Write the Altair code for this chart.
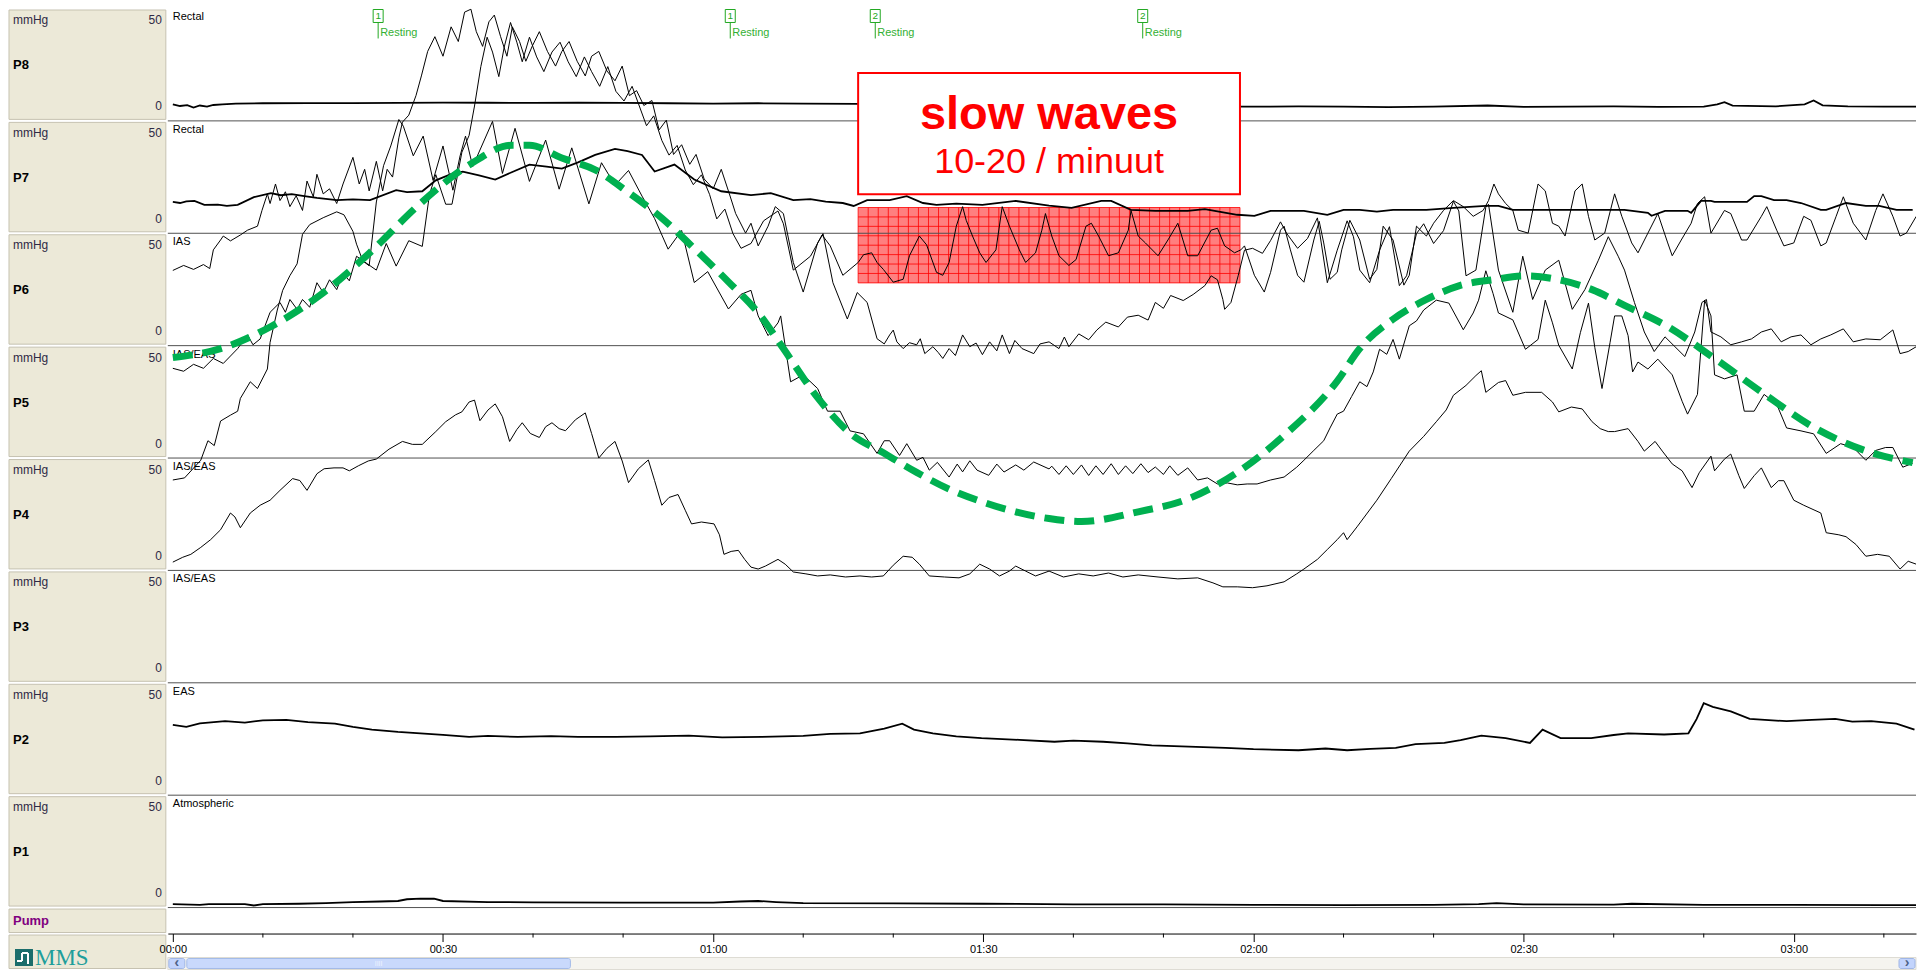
import altair as alt
import pandas as pd

FONT = "Liberation Sans"

# ----------------------------------------------------------------- data
CHANNELS = ["P8", "P7", "P6", "P5", "P4", "P3", "P2", "P1"]
SITES = ["Rectal", "Rectal", "IAS", "IAS/EAS", "IAS/EAS", "IAS/EAS", "EAS", "Atmospheric"]
UNIT_LABEL = "mmHg"
RANGE_HI = "50"
RANGE_LO = "0"
PUMP_LABEL = "Pump"
LOGO_LABEL = "MMS"

# (time s, pressure mmHg) per channel
P8 = [(0, 1.5), (0.8, 0.6), (1.6, 1.1), (2.3, -0.3), (3.0, 0.9), (3.8, 0.3), (4.5, 1.2), (5.5, 1.6), (7, 2.0),
      (10, 2.2), (15, 2.3), (20, 2.3), (25, 2.4), (30, 2.6), (35, 2.5), (40, 2.4), (45, 2.5), (50, 2.4), (55, 2.2),
      (60, 2.0), (65, 2.2), (70, 2.0), (76, 1.8), (97, 1.0), (119, 0.2), (125, 0.4), (130, 0.2), (135, 0.0),
      (140, 0.3), (146, 0.9), (150, 0.1), (155, 0.2), (160, 0.4), (165, 0.1), (170, 0.3), (171.5, 1.5),
      (172.3, 2.8), (173.2, 0.8), (178, 0.4), (181.2, 1.6), (182.2, 3.8), (183.2, 1.0), (186, 0.4), (190, 0.3),
      (193.6, 0.2)]

P7 = [(0, 10.1), (0.8, 9.5), (1.5, 10.4), (2.4, 10.7), (3.5, 8.4), (5, 8.6), (6, 7.9), (7.2, 8.4), (9.0, 12.9),
      (10.9, 15.2), (12, 14), (13.2, 14.6), (14.6, 13.5), (16, 12.5), (18.2, 11.2), (20, 11.6), (21.9, 11.2),
      (24.8, 16.9), (26, 15.8), (27.7, 16.3), (29.2, 22.6), (31.1, 26.6), (32.2, 27.7), (34, 25.5), (35.8, 23.1),
      (37.5, 27), (39.6, 31.7), (41.5, 30.5), (43.2, 29.4), (45, 33), (46.9, 37.3), (49.1, 40.8), (50.5, 39.5),
      (52.1, 37.3), (53.5, 27.7), (55.7, 31.7), (57.9, 23.1), (60.9, 16.3), (64.2, 14.1), (66.4, 15.2),
      (68.9, 11.2), (70.8, 11.8), (72.5, 10.3), (74.4, 9.5), (75.6, 7.8), (77.1, 11.2), (79.6, 11.2),
      (81.5, 13.5), (83.3, 9.5), (84.8, 8.4), (87, 9.1), (89.9, 8.4), (93.6, 10.7), (97.3, 8.0), (99.8, 6.7),
      (103.1, 10.7), (104.2, 10.7), (106.4, 5.5), (109.1, 5.0), (112.7, 5.0), (114.6, 6.0), (118.2, 2.7),
      (120.1, 2.1), (121.9, 5.0), (125.6, 5.0), (128.2, 2.7), (130.0, 5.5), (131.8, 5.5), (133.7, 4.5),
      (135.5, 5.5), (139.2, 5.5), (142.2, 6.7), (145.8, 7.8), (147.2, 7.8), (148.8, 5.5), (155, 5.5),
      (161.2, 5.5), (163.8, 3.8), (164.2, 2.1), (165.7, 5.0), (168.2, 5.0), (168.6, 3.8), (169.7, 10.7),
      (170.8, 10.7), (171.2, 10.1), (174.8, 10.1), (175.6, 13.5), (176.4, 13.5), (177.8, 11.2), (179.2, 11.2),
      (180.8, 9.5), (183.0, 5.5), (183.6, 5.5), (185.8, 9.5), (188.0, 7.8), (189.5, 7.8), (191.4, 5.5),
      (193.2, 5.5)]

P6 = [(0, 35.5), (1.2, 38.4), (2.3, 36.1), (3.4, 38.9), (4.1, 36.6), (4.5, 47.4), (5.3, 53.1), (5.6, 55.4),
      (6.4, 52.6), (7.5, 56.0), (8.3, 58.8), (9.4, 61.1), (9.9, 70.2), (10.5, 79.8), (10.8, 74.2), (11.4, 85.5),
      (11.9, 75.9), (12.5, 81.0), (13.0, 72.4), (13.7, 78.7), (14.4, 70.2), (14.9, 87.2), (15.6, 78.1),
      (16.0, 91.1), (16.7, 79.8), (17.4, 82.7), (18.2, 74.2), (18.9, 85.5), (20.0, 100.9), (20.7, 85.5),
      (21.3, 94.0), (21.8, 81.5), (22.6, 98.6), (23.3, 81.5), (23.8, 94.0), (24.4, 89.5), (25.1, 112.2),
      (25.5, 121.3), (26.2, 125.3), (27.0, 136.6), (27.6, 148.0), (28.3, 162.2), (29.1, 170.7), (30.0, 159.4),
      (30.9, 176.4), (31.7, 167.9), (32.4, 184.9), (33.1, 186.6), (33.7, 173.6), (34.4, 165.1), (35.1, 179.3),
      (35.7, 183.2), (36.4, 170.7), (37.1, 159.4), (37.7, 176.4), (38.5, 167.9), (39.2, 156.5), (39.9, 165.1),
      (40.7, 173.6), (41.6, 162.2), (42.5, 153.7), (43.2, 162.2), (44.0, 167.9), (44.9, 156.5), (45.8, 148.0),
      (46.5, 159.4), (47.3, 162.2), (48.2, 150.9), (49.1, 145.2), (49.9, 153.7), (50.7, 136.6), (51.5, 139.5),
      (52.3, 130.9), (53.2, 133.8), (54.0, 116.8), (54.8, 122.4), (55.6, 102.6), (56.5, 108.2), (57.4, 96.9),
      (58.1, 102.6), (59.0, 88.4), (60.0, 82.7), (60.9, 94.0), (61.8, 79.8), (62.5, 68.4), (63.6, 57.1),
      (64.2, 62.8), (65.0, 49.7), (66.1, 61.1), (66.9, 72.4), (67.8, 68.4), (68.9, 40.1), (70.0, 23.0),
      (71.6, 51.4), (72.1, 56.0), (73.0, 49.7), (74.4, 32.7), (76.1, 40.1), (76.7, 44.6), (77.6, 45.7),
      (78.2, 40.1), (78.9, 36.1), (80.0, 28.7), (81.1, 30.4), (81.8, 44.0), (82.9, 55.4), (83.7, 50.3),
      (84.8, 34.4), (85.5, 32.7), (86.2, 40.1), (87.0, 61.1), (87.7, 72.4), (88.1, 64.5), (88.8, 55.4),
      (89.6, 45.7), (90.3, 40.1), (91.4, 47.4), (92.1, 72.4), (92.9, 61.1), (94.0, 47.4), (94.7, 40.1),
      (95.8, 45.7), (96.5, 58.8), (96.9, 68.4), (97.6, 55.4), (98.4, 44.0), (99.5, 38.4), (100.3, 41.8),
      (101.4, 61.1), (102.0, 62.8), (102.8, 55.4), (103.9, 44.0), (105.0, 45.7), (106.1, 58.8), (106.4, 70.2),
      (107.2, 55.4), (108.0, 51.4), (109.4, 44.0), (110.5, 53.1), (111.6, 62.8), (112.7, 44.0), (113.8, 44.0),
      (115.3, 58.8), (116.0, 59.9), (116.8, 49.7), (117.9, 45.7), (118.6, 47.4), (119.0, 49.7), (120.1, 32.7),
      (121.2, 23.0), (121.9, 34.4), (123.0, 58.8), (123.4, 61.1), (124.1, 47.4), (124.9, 32.7), (125.6, 28.7),
      (126.7, 53.1), (127.3, 63.9), (127.8, 51.4), (128.5, 30.4), (129.3, 34.4), (129.8, 47.4), (130.7, 64.5),
      (131.8, 53.1), (132.9, 30.4), (133.7, 36.1), (134.4, 61.1), (135.5, 53.1), (136.7, 27.0), (137.3, 32.7),
      (138.1, 61.1), (139.2, 55.4), (140.0, 62.8), (141.1, 70.2), (142.2, 75.9), (143.3, 72.4), (144.4, 66.8),
      (145.5, 70.2), (146.1, 75.9), (146.7, 85.5), (147.2, 79.8), (148.0, 74.2), (148.8, 70.2), (149.4, 58.8),
      (150.5, 57.1), (151.6, 85.5), (152.4, 81.5), (153.2, 62.8), (153.9, 61.1), (154.6, 55.4), (155.7, 81.5),
      (156.5, 85.5), (157.2, 66.8), (157.9, 53.1), (159.0, 57.1), (160.1, 79.8), (160.9, 66.8), (162.0, 51.4),
      (162.7, 45.7), (163.8, 57.1), (164.9, 68.4), (166.0, 51.4), (166.5, 44.0), (167.5, 53.1), (168.6, 62.8),
      (169.3, 74.2), (170.1, 78.1), (170.8, 57.1), (172.3, 70.2), (173.0, 68.4), (174.2, 53.1), (174.8, 53.1),
      (176.4, 66.8), (177.0, 72.4), (178.1, 58.8), (178.9, 49.7), (180.0, 51.4), (181.1, 66.8), (181.9, 64.5),
      (183.0, 49.7), (183.6, 51.4), (184.7, 66.8), (185.5, 78.1), (186.6, 62.8), (188.0, 53.1), (189.1, 70.2),
      (189.9, 79.8), (191.0, 66.8), (191.8, 55.4), (192.5, 57.1), (193.6, 66.8)]

P5 = [(0, 43.9), (1.2, 42.2), (2.3, 46.2), (3.4, 43.9), (4.5, 49.6), (5.6, 46.7), (7.2, 55.3), (8.3, 63.2),
      (8.9, 57.5), (9.7, 60.9), (10.8, 76.3), (11.9, 82.0), (12.5, 76.3), (13.0, 83.7), (13.8, 78.0), (14.4, 83.7),
      (15.2, 79.2), (16.0, 93.4), (16.7, 87.7), (17.4, 95.1), (18.2, 89.4), (18.9, 99.0), (19.6, 94.5),
      (20.4, 108.7), (21.8, 103.6), (22.6, 100.7), (23.7, 116.1), (24.8, 103.0), (26.2, 117.7), (27.7, 114.4),
      (28.5, 144.5), (29.2, 155.9), (30.3, 138.8), (31.0, 138.8), (32.1, 168.9), (32.9, 178.6), (33.5, 195.6),
      (34.2, 218.4), (34.9, 235.4), (35.5, 226.8), (36.2, 212.6), (36.8, 229.7), (37.5, 243.9), (38.2, 232.5),
      (38.8, 221.2), (39.6, 235.4), (40.4, 224.0), (41.2, 215.5), (42.1, 226.8), (43.0, 232.5), (43.9, 221.2),
      (44.8, 212.6), (45.7, 224.0), (46.5, 215.5), (47.4, 207.0), (48.3, 218.4), (49.2, 204.1), (50.1, 198.5),
      (51.0, 207.0), (51.8, 195.6), (52.6, 184.2), (53.4, 189.9), (54.3, 175.7), (55.1, 167.2), (56.0, 172.8),
      (56.9, 158.6), (57.8, 150.1), (58.7, 155.8), (59.6, 144.5), (60.4, 130.3), (61.3, 136.0), (62.2, 121.8),
      (63.1, 113.3), (64.2, 116.1), (65.6, 129.2), (67.2, 134.9), (67.8, 127.5), (68.9, 100.7), (70.8, 108.7),
      (72.2, 121.8), (73.3, 93.4), (74.9, 72.4), (76.0, 87.7), (77.1, 82.0), (78.2, 61.0), (79.0, 58.0),
      (79.6, 63.2), (80.0, 66.0), (80.4, 59.2), (81.1, 55.3), (81.8, 58.7), (82.6, 57.5), (83.0, 61.0),
      (83.5, 52.4), (84.4, 56.4), (85.0, 53.0), (85.5, 49.6), (86.2, 55.3), (86.9, 51.3), (87.7, 63.2),
      (88.5, 56.4), (89.2, 58.5), (89.9, 51.8), (90.7, 59.2), (91.5, 54.0), (92.1, 63.2), (92.9, 52.4),
      (93.5, 60.0), (94.3, 55.3), (95.6, 52.4), (96.3, 58.0), (97.3, 59.2), (98.4, 55.3), (99.0, 62.0),
      (99.5, 56.4), (100.6, 63.8), (101.7, 60.4), (102.6, 66.0), (103.6, 70.6), (105.0, 67.8), (106.0, 73.5),
      (107.2, 74.6), (108.3, 71.8), (109.1, 82.0), (110.0, 78.6), (110.8, 86.0), (112.2, 83.1), (113.3, 86.6),
      (114.6, 91.7), (115.3, 97.4), (116.0, 95.1), (116.6, 83.7), (116.8, 78.0), (117.5, 82.0), (118.3, 97.4),
      (119.0, 112.2), (119.9, 113.3), (121.0, 110.4), (121.9, 117.8), (123.0, 128.6), (123.7, 121.8),
      (124.9, 113.3), (126.0, 119.0), (127.1, 130.9), (128.2, 93.4), (129.3, 112.2), (130.4, 129.2),
      (131.1, 120.0), (131.8, 100.7), (132.9, 93.4), (134.0, 112.2), (135.1, 125.8), (136.2, 91.7),
      (137.0, 97.4), (138.1, 121.8), (138.9, 127.5), (140.0, 116.1), (141.1, 123.5), (142.2, 140.5),
      (142.8, 134.9), (143.6, 97.4), (144.7, 100.7), (145.8, 137.1), (146.1, 138.8), (147.2, 100.7),
      (148.8, 76.3), (149.9, 108.7), (151.0, 83.7), (152.4, 100.7), (153.9, 106.4), (155.4, 78.0),
      (156.8, 89.4), (158.3, 106.4), (159.4, 120.0), (160.5, 108.7), (161.2, 100.7), (162.3, 82.0),
      (163.4, 64.9), (164.5, 53.6), (165.7, 62.1), (166.8, 56.4), (167.9, 50.7), (169.0, 64.9), (169.8, 82.0),
      (170.3, 83.7), (170.8, 64.9), (171.9, 62.1), (173.0, 57.5), (174.2, 59.2), (175.3, 60.9), (176.4, 64.9),
      (177.5, 66.7), (178.6, 59.2), (179.7, 62.1), (180.8, 63.2), (181.9, 57.5), (183.0, 60.9), (184.1, 63.2),
      (185.5, 66.7), (186.6, 59.2), (188.0, 60.9), (189.6, 60.4), (191.0, 66.1), (191.8, 52.4), (192.7, 53.6),
      (193.6, 56.4)]

P4 = [(0, 44.3), (1.3, 45.5), (3.1, 55.7), (3.9, 67.0), (4.6, 64.2), (5.3, 78.4), (6.4, 81.8), (7.2, 84.1),
      (7.5, 91.5), (8.6, 101.1), (9.4, 97.2), (10.5, 108.5), (10.8, 123.9), (11.6, 142.6), (12.2, 154.0),
      (13.0, 162.5), (13.8, 169.3), (14.4, 186.4), (15.2, 192.0), (16.7, 196.0), (18.2, 199.4), (19.0, 197.7),
      (20.0, 188.1), (20.4, 180.7), (21.1, 171.0), (21.8, 168.2), (22.6, 205.1), (23.4, 226.1), (24.2, 237.5),
      (25.1, 252.8), (25.6, 248.9), (26.7, 231.8), (27.8, 243.2), (28.9, 217.6), (30.0, 237.5), (31.1, 211.9),
      (31.9, 231.8), (32.5, 243.2), (33.3, 225.6), (35.5, 251.7), (36.6, 221.6), (38.0, 247.7), (39.6, 217.0),
      (41.4, 240.9), (42.9, 212.5), (44.3, 236.4), (46.2, 204.0), (47.6, 227.8), (49.1, 214.8), (50.6, 223.3),
      (52.1, 208.5), (53.5, 195.5), (55.0, 177.8), (56.5, 188.6), (57.9, 158.5), (59.4, 164.8), (61.7, 143.2),
      (63.1, 151.7), (64.2, 154.0), (65.0, 139.2), (66.1, 127.8), (67.2, 135.2), (67.5, 139.2), (68.6, 101.1),
      (70.0, 105.1), (71.6, 97.2), (72.7, 84.1), (74.1, 84.1), (75.2, 72.7), (76.7, 71.0), (78.2, 59.7),
      (79.0, 67.0), (79.6, 67.0), (80.7, 58.5), (81.5, 65.3), (82.6, 55.7), (83.3, 57.4), (84.0, 50.0),
      (84.9, 54.5), (86.2, 46.0), (87.1, 53.5), (87.7, 49.0), (88.5, 55.4), (89.3, 50.0), (90.6, 47.0),
      (91.5, 53.5), (92.3, 48.9), (93.6, 53.0), (94.5, 50.0), (95.6, 54.7), (97.3, 50.7), (97.6, 52.3),
      (98.4, 47.5), (99.2, 52.5), (100.0, 47.5), (100.9, 53.0), (101.7, 46.9), (102.5, 52.5), (103.3, 47.5),
      (104.2, 53.7), (105.0, 47.5), (105.8, 52.5), (106.6, 48.0), (107.5, 53.7), (108.3, 48.6), (109.1, 51.8),
      (110.0, 47.5), (110.7, 52.5), (111.6, 47.0), (112.7, 51.3), (113.8, 44.3), (114.9, 45.5), (116.0, 42.0),
      (117.1, 42.6), (118.2, 41.5), (119.3, 42.0), (120.4, 42.0), (121.9, 44.3), (123.4, 46.0), (124.8, 51.7),
      (125.6, 55.7), (126.7, 61.4), (127.8, 67.0), (128.5, 74.4), (129.3, 82.4), (130.0, 84.1), (130.9, 92.6),
      (131.8, 101.1), (132.6, 98.3), (133.3, 106.8), (134.0, 119.9), (134.8, 117.0), (135.5, 125.6),
      (136.2, 114.2), (137.3, 133.5), (138.1, 136.3), (138.9, 142.6), (140.3, 148.3), (141.7, 146.6),
      (143.3, 131.2), (144.4, 140.9), (145.0, 148.3), (145.8, 165.3), (146.6, 152.2), (147.2, 140.9),
      (148.8, 136.9), (150.2, 119.9), (151.6, 125.6), (152.4, 148.3), (153.2, 135.2), (153.9, 122.2),
      (155.4, 108.5), (156.3, 129.5), (157.2, 146.6), (157.9, 121.0), (158.7, 97.2), (159.6, 123.9),
      (160.1, 139.2), (160.9, 139.2), (161.6, 127.8), (162.1, 106.8), (162.7, 112.5), (163.8, 108.5),
      (164.9, 114.2), (166.5, 105.1), (167.6, 89.8), (168.2, 82.4), (169.3, 93.8), (170.1, 148.3),
      (170.8, 139.2), (171.2, 105.1), (172.3, 102.8), (173.7, 105.1), (174.5, 84.1), (175.6, 84.1),
      (176.7, 93.8), (178.1, 88.1), (179.2, 74.4), (180.8, 72.7), (182.2, 71.0), (183.6, 59.7), (185.2, 65.3),
      (186.6, 63.1), (188.0, 55.7), (189.1, 61.4), (190.2, 63.1), (191.0, 63.1), (192.1, 51.7), (193.2, 54.0)]

P3 = [(0, 61.8), (1.1, 64.6), (2.0, 66.3), (3.1, 70.3), (4.2, 74.8), (5.3, 80.5), (6.4, 90.2), (6.9, 87.9),
      (7.5, 81.7), (8.6, 90.2), (9.7, 94.7), (10.8, 97.6), (11.9, 103.3), (13.3, 110.1), (14.1, 109.0),
      (14.9, 103.3), (16.0, 112.9), (16.8, 115.8), (17.9, 116.3), (18.9, 116.3), (19.6, 114.6), (20.6, 117.5),
      (21.7, 120.3), (22.6, 121.4), (24.0, 127.1), (25.5, 131.6), (26.6, 129.9), (27.7, 129.9), (29.2, 137.3),
      (30.3, 143.0), (31.4, 147.0), (32.1, 148.7), (32.9, 154.4), (33.5, 155.5), (34.1, 143.6), (35.0, 149.8),
      (35.8, 153.3), (36.6, 145.9), (37.4, 131.6), (38.2, 138.5), (38.8, 142.4), (39.7, 136.2), (40.7, 133.9),
      (41.4, 140.1), (42.1, 142.4), (42.9, 139.0), (43.6, 137.8), (44.7, 144.1), (45.8, 148.1), (46.5, 136.2),
      (47.3, 122.0), (48.2, 127.6), (49.1, 131.6), (49.9, 120.3), (50.6, 107.8), (51.7, 115.8), (52.8, 120.9),
      (53.5, 108.9), (54.3, 94.7), (55.1, 99.2), (56.1, 100.9), (56.9, 91.8), (57.6, 83.9), (58.7, 85.0),
      (60.1, 83.9), (60.7, 77.6), (61.2, 66.3), (62.0, 68.0), (62.8, 68.6), (63.5, 63.4), (64.2, 58.9),
      (65.0, 57.8), (65.8, 59.5), (67.2, 63.4), (68.0, 60.6), (68.9, 56.1), (70.3, 55.0), (71.6, 53.8),
      (73.0, 54.4), (74.7, 53.2), (76.3, 53.8), (77.6, 53.2), (78.9, 53.8), (80.0, 60.0), (81.1, 65.2),
      (82.1, 64.6), (82.9, 60.6), (84.0, 53.8), (85.7, 53.2), (87.3, 52.7), (88.5, 55.0), (89.6, 60.6),
      (90.7, 57.8), (91.8, 53.8), (92.9, 56.6), (93.6, 59.5), (94.7, 56.6), (95.8, 53.8), (97.3, 56.6),
      (98.9, 53.2), (100.6, 55.0), (102.2, 53.8), (103.9, 55.5), (105.5, 53.2), (107.2, 54.4), (109.4, 53.2),
      (111.6, 52.1), (113.8, 52.7), (115.5, 49.8), (116.6, 47.5), (118.2, 47.5), (119.9, 47.0), (121.5, 48.1),
      (123.4, 50.4), (124.8, 55.0), (125.6, 57.8), (127.1, 63.4), (128.2, 69.1), (129.3, 74.8), (130.0, 78.8),
      (130.4, 74.8), (131.5, 82.2), (133.7, 97.6), (135.3, 110.1), (137.3, 126.0), (138.9, 134.5),
      (140.3, 143.0), (141.4, 149.8), (142.2, 158.3), (143.6, 164.0), (144.7, 169.7), (145.3, 172.5),
      (145.8, 160.0), (147.2, 165.7), (148.0, 166.8), (148.8, 158.3), (150.2, 160.0), (152.0, 160.0),
      (153.2, 154.4), (153.9, 148.7), (155.3, 151.5), (156.5, 150.4), (157.6, 143.0), (158.5, 139.0),
      (159.4, 137.3), (160.1, 137.3), (161.6, 139.0), (162.7, 131.6), (163.4, 126.0), (164.6, 131.6),
      (165.4, 126.0), (166.5, 118.6), (167.6, 114.6), (168.7, 104.9), (169.5, 113.5), (170.8, 123.1),
      (171.2, 114.6), (172.3, 121.4), (173.0, 124.3), (173.9, 111.8), (174.5, 104.4), (175.6, 111.8),
      (176.4, 116.3), (177.5, 104.9), (178.3, 108.9), (178.9, 108.9), (180.0, 97.6), (181.1, 94.7),
      (183.0, 90.2), (183.6, 78.8), (185.0, 77.6), (185.8, 76.5), (186.9, 72.0), (188.0, 65.2), (189.3, 66.3),
      (190.6, 65.2), (191.8, 57.8), (192.7, 62.3), (193.6, 60.6)]

P2 = [(0, 32.7), (1.5, 31.5), (3, 33.5), (5.8, 34.8), (8, 34.0), (10, 35.3), (12.6, 35.5), (15, 34.2), (18, 33.4),
      (20, 31.5), (22.1, 29.9), (25, 28.6), (27.5, 27.8), (30, 26.9), (32.9, 25.7), (35, 26.3), (38.3, 25.7),
      (42, 26.2), (45, 25.7), (49.2, 25.7), (53, 26.0), (57.3, 26.4), (61, 25.4), (65.4, 25.7), (70, 26.3),
      (73, 27.4), (76.3, 27.8), (79, 30.5), (81, 33.4), (82.3, 29.9), (84.4, 27.8), (87, 26.0), (89.8, 25.0),
      (94, 24.0), (97.9, 22.9), (100, 23.6), (103.3, 22.9), (106, 22.0), (108.7, 20.8), (112, 20.2),
      (116.9, 19.4), (120, 18.6), (125, 18.0), (128, 19.0), (130.4, 18.0), (133, 18.8), (135.8, 19.4),
      (138, 21.5), (141.2, 22.2), (143, 23.8), (145.3, 26.4), (148, 25.0), (150.7, 22.2), (152.1, 29.9),
      (154.1, 25.0), (157.5, 25.0), (160, 26.8), (161.6, 27.8), (165.6, 27.1), (168.3, 27.8), (169.2, 36.0),
      (170, 45.2), (171, 43.1), (173, 40.5), (175.1, 36.1), (179.2, 34.8), (182, 35.6), (184.6, 36.1),
      (186.5, 34.5), (188.6, 34.8), (191.4, 33.4), (193.4, 29.9)]

P1 = [(0, -6.0), (3, -6.4), (4, -6.0), (8, -6.0), (9, -6.8), (10, -6.0), (14, -5.8), (17, -5.4), (20, -4.9),
      (23, -4.5), (25, -4.2), (26, -3.2), (27.5, -2.8), (29, -2.9), (30, -4.2), (35, -4.8), (40, -5.0),
      (50, -5.1), (60, -5.2), (63, -4.5), (65, -4.2), (67, -4.8), (70, -5.4), (80, -5.6), (90, -5.8),
      (100, -6.1), (110, -6.2), (120, -6.4), (130, -6.6), (140, -6.4), (145, -6.0), (147, -5.4), (150, -6.1),
      (160, -6.3), (162, -5.8), (170, -6.4), (180, -6.5), (190, -6.6), (193.6, -6.6)]

HEAVY = ["P8", "P7", "P2", "P1"]

# hand-drawn slow pressure wave (time s, mmHg on the P5 scale)
SLOW_WAVE_CURVE = [(0, 50.1), (5.3, 55.3), (10.8, 67.8), (16.3, 86.0), (21.8, 110.4), (27.4, 138.8), (32.9, 161.5),
                   (37.7, 172.9), (39.6, 172.9), (43.2, 165.5), (46.9, 158.7), (50.6, 145.6), (54.3, 130.8),
                   (57.9, 113.2), (61.7, 93.9), (65.3, 74.0), (67.8, 55.3), (71.6, 26.9), (75.2, 6.4),
                   (78.9, -5.0), (82.6, -16.3), (86.2, -26.0), (89.9, -33.4), (93.6, -39.1), (97.3, -43.0),
                   (100.9, -44.7), (107.2, -39.1), (112.7, -31.7), (118.2, -16.3), (123.7, 6.4), (129.3, 36.5),
                   (131.8, 55.3), (135.5, 72.3), (139.2, 83.7), (142.8, 91.6), (146.6, 95.1), (150.2, 97.3),
                   (153.9, 95.1), (157.6, 89.4), (161.2, 80.3), (165.7, 68.9), (171.2, 49.6), (176.7, 29.1),
                   (182.2, 9.8), (187.7, -3.3), (193.2, -10.7)]
CURVE_CHANNEL = "P5"

MARKER_T = [22.8, 61.9, 78.0, 107.7]
MARKER_N = ["1", "1", "2", "2"]
MARKER_TEXT = "Resting"

SLOW_SPAN_T = [76.1, 118.5]      # highlighted slow-wave period (s)
SLOW_SPAN_P6 = [28.3, 71.9]      # its pressure band on P6 (mmHg)
NOTE_SPAN_P8 = [-50.4, 19.7]     # annotation box, P8 scale (mmHg)
NOTE_TITLE = "slow waves"
NOTE_TITLE_P8 = -12.5
NOTE_SUB = "10-20 / minuut"
NOTE_SUB_P8 = -38.1

TICK_T = [0, 30, 60, 90, 120, 150, 180]
TICK_LABELS = ["00:00", "00:30", "01:00", "01:30", "02:00", "02:30", "03:00"]
MINOR_T = [10, 20, 40, 50, 70, 80, 100, 110, 130, 140, 160, 170, 190]

# ----------------------------------------------------------------- layout
STRIP_U = 65.0
ZERO_U = 8.0
STRIP_PX = 112.5
PX = STRIP_PX / STRIP_U
PLOT_W = 1750
PUMP_PX = 26
MAIN_H = 8 * STRIP_PX + PUMP_PX
LEFT_W = 160
LEFT_H = 962
Y_TOP = 8 * STRIP_U
Y_MIN = Y_TOP - MAIN_H / PX
SEC_PX = 272 / 30
T_MAX = PLOT_W / SEC_PX
GREEN = "#00B050"
MARK_GREEN = "#22a822"


def offset(ch):
    k = 8 - CHANNELS.index(ch)
    return (k - 1) * STRIP_U + ZERO_U


rows = []
for ch, pts in zip(CHANNELS, [P8, P7, P6, P5, P4, P3, P2, P1]):
    for t, p in pts:
        rows.append({"ch": ch, "t": t, "p": p, "Y": offset(ch) + p, "heavy": ch in HEAVY})
traces = pd.DataFrame(rows)

XS = alt.Scale(domain=[0, T_MAX], nice=False, zero=False)
YS = alt.Scale(domain=[Y_MIN, Y_TOP], nice=False, zero=False)
label_expr = " : ".join(f"datum.value == {t} ? '{l}'" for t, l in zip(TICK_T, TICK_LABELS)) + " : ''"
X_AXIS = alt.Axis(values=TICK_T, labelExpr=label_expr, title=None, grid=False, tickSize=8,
                  tickColor="#000000", tickWidth=1, domainColor="#000000", domainWidth=1,
                  labelColor="#000000", labelFont=FONT, labelFontSize=11, labelFlush=True,
                  labelPadding=2, labelAngle=0, labelOverlap=False)


def xq(f):
    return alt.X(f"{f}:Q", scale=XS, axis=X_AXIS)


def yq(f):
    return alt.Y(f"{f}:Q", scale=YS, axis=None)


ONE = pd.DataFrame({"a": [0]})


def prect(x0, x1, y0, y1, **kw):
    return alt.Chart(ONE).mark_rect(**kw).encode(
        x=alt.value(x0), x2=alt.value(x1), y=alt.value(y0), y2=alt.value(y1))


def ptext(x, y, text, **kw):
    return alt.Chart(ONE).mark_text(text=text, **kw).encode(x=alt.value(x), y=alt.value(y))


def prule(x0, y0, x1, y1, **kw):
    return alt.Chart(ONE).mark_rule(**kw).encode(
        x=alt.value(x0), y=alt.value(y0), x2=alt.value(x1), y2=alt.value(y1))


# slow-wave highlight with grid pattern
o6 = offset("P6")
sy0, sy1 = o6 + SLOW_SPAN_P6[0], o6 + SLOW_SPAN_P6[1]
slow_df = pd.DataFrame({"t0": [SLOW_SPAN_T[0]], "t1": [SLOW_SPAN_T[1]], "y0": [sy0], "y1": [sy1]})
slow_rect = alt.Chart(slow_df).mark_rect(fill="#ff0000", opacity=0.5).encode(
    x=xq("t0"), x2="t1", y=yq("y0"), y2="y1")
nv, nh = 38, 8
gv = pd.DataFrame({"t": [SLOW_SPAN_T[0] + i * (SLOW_SPAN_T[1] - SLOW_SPAN_T[0]) / nv for i in range(nv + 1)]})
gv["y0"], gv["y1"] = sy0, sy1
gh = pd.DataFrame({"Y": [sy0 + j * (sy1 - sy0) / nh for j in range(nh + 1)]})
gh["t0"], gh["t1"] = SLOW_SPAN_T[0], SLOW_SPAN_T[1]
grid_v = alt.Chart(gv).mark_rule(color="#ff0000", strokeWidth=1, opacity=0.8).encode(
    x=xq("t"), y=yq("y0"), y2="y1")
grid_h = alt.Chart(gh).mark_rule(color="#ff0000", strokeWidth=1, opacity=0.8).encode(
    x=xq("t0"), x2="t1", y=yq("Y"))

# strip separators and labels
sep_df = pd.DataFrame({"Y": [i * STRIP_U for i in range(8)]})
seps = alt.Chart(sep_df).mark_rule(color="#505050", strokeWidth=1).encode(
    y=yq("Y"), x=alt.value(0), x2=alt.value(PLOT_W))
lab_df = pd.DataFrame({"site": SITES, "Y": [(8 - i) * STRIP_U for i in range(8)]})
labels = alt.Chart(lab_df).mark_text(align="left", baseline="top", dy=3, fontSize=11, font=FONT,
                                     color="#000000").encode(x=alt.value(5), y=yq("Y"), text="site:N")

# traces
heavy = alt.Chart(traces[traces["heavy"]]).mark_line(color="#000000", strokeWidth=1.8, clip=True).encode(
    x=xq("t"), y=yq("Y"), detail="ch:N")
light = alt.Chart(traces[~traces["heavy"]]).mark_line(color="#000000", strokeWidth=1.0, clip=True).encode(
    x=xq("t"), y=yq("Y"), detail="ch:N")

green_df = pd.DataFrame(SLOW_WAVE_CURVE, columns=["t", "p"])
green_df["Y"] = offset(CURVE_CHANNEL) + green_df["p"]
green = alt.Chart(green_df).mark_line(color=GREEN, strokeWidth=7, strokeDash=[20, 10], strokeCap="butt",
                                      interpolate="monotone", clip=True).encode(x=xq("t"), y=yq("Y"))

# annotation box
o8 = offset("P8")
note_df = pd.DataFrame({"t0": [SLOW_SPAN_T[0]], "t1": [SLOW_SPAN_T[1]],
                        "y0": [o8 + NOTE_SPAN_P8[0]], "y1": [o8 + NOTE_SPAN_P8[1]]})
note_box = alt.Chart(note_df).mark_rect(fill="#ffffff", stroke="#ff0000", strokeWidth=2).encode(
    x=xq("t0"), x2="t1", y=yq("y0"), y2="y1")
tmid = (SLOW_SPAN_T[0] + SLOW_SPAN_T[1]) / 2
note_t_df = pd.DataFrame({"t": [tmid], "Y": [o8 + NOTE_TITLE_P8]})
note_s_df = pd.DataFrame({"t": [tmid], "Y": [o8 + NOTE_SUB_P8]})
note_title = alt.Chart(note_t_df).mark_text(text=NOTE_TITLE, fontSize=47, fontWeight="bold", font=FONT,
                                            color="#ff0000", align="center", baseline="alphabetic").encode(
    x=xq("t"), y=yq("Y"))
note_sub = alt.Chart(note_s_df).mark_text(text=NOTE_SUB, fontSize=36, font=FONT, color="#ff0000",
                                          align="center", baseline="alphabetic").encode(x=xq("t"), y=yq("Y"))

# event markers
mk_df = pd.DataFrame({"t": MARKER_T, "n": MARKER_N, "lab": [MARKER_TEXT] * len(MARKER_T)})
mk_box = alt.Chart(mk_df).mark_bar(width=10, fill="#ffffff", stroke=MARK_GREEN, strokeWidth=1).encode(
    x=xq("t"), y=alt.value(1), y2=alt.value(14))
mk_num = alt.Chart(mk_df).mark_text(fontSize=10, font=FONT, color=MARK_GREEN, baseline="middle",
                                    align="center").encode(x=xq("t"), y=alt.value(8), text="n:N")
mk_line = alt.Chart(mk_df).mark_rule(color=MARK_GREEN, strokeWidth=1).encode(
    x=xq("t"), y=alt.value(14), y2=alt.value(30))
mk_lab = alt.Chart(mk_df).mark_text(fontSize=11, font=FONT, color="#33b033", baseline="middle", align="left",
                                    dx=2).encode(x=xq("t"), y=alt.value(25), text="lab:N")

# minor ticks on the time axis
minor = alt.Chart(pd.DataFrame({"t": MINOR_T})).mark_rule(color="#000000", strokeWidth=1).encode(
    x=xq("t"), y=alt.value(MAIN_H), y2=alt.value(MAIN_H + 4))

# scroll bar
SB0, SB1 = MAIN_H + 24, MAIN_H + 36
scroll = [
    prect(0, PLOT_W, SB0, SB1, fill="#f5f4ef", stroke="#dedcd4", strokeWidth=1),
    prect(1, 17, SB0 + 1, SB1 - 1, fill="#c3d4fc", stroke="#9fb6e6", strokeWidth=1, cornerRadius=2),
    ptext(9, (SB0 + SB1) / 2, "‹", fontSize=14, fontWeight="bold", color="#4d6185", align="center",
          baseline="middle", font=FONT),
    prect(19, 403, SB0 + 1, SB1 - 1, fill="#c9d9fc", stroke="#a3bbe8", strokeWidth=1, cornerRadius=2),
    ptext(211, (SB0 + SB1) / 2, "IIII", fontSize=7, color="#eef3fe", align="center", baseline="middle",
          font=FONT),
    prect(PLOT_W - 17, PLOT_W - 1, SB0 + 1, SB1 - 1, fill="#c3d4fc", stroke="#9fb6e6", strokeWidth=1,
          cornerRadius=2),
    ptext(PLOT_W - 9, (SB0 + SB1) / 2, "›", fontSize=14, fontWeight="bold", color="#4d6185", align="center",
          baseline="middle", font=FONT),
]

main = alt.layer(slow_rect, grid_v, grid_h, seps, labels, heavy, light, green, note_box, note_title, note_sub,
                 mk_box, mk_line, mk_num, mk_lab, minor, *scroll).properties(width=PLOT_W, height=MAIN_H)

# ----------------------------------------------------------------- left panel
left_layers = []
TXT = "#2f2a45"
for i, ch in enumerate(CHANNELS):
    top = i * STRIP_PX
    left_layers.append(prect(1, 158, top + 1.5, top + 111, fill="#ECE9D8", stroke="#c6c2b1", strokeWidth=1))
    left_layers.append(ptext(5, top + 12, UNIT_LABEL, fontSize=12, font=FONT, color=TXT, align="left",
                             baseline="middle"))
    left_layers.append(ptext(154, top + 12, RANGE_HI, fontSize=12, font=FONT, color=TXT, align="right",
                             baseline="middle"))
    left_layers.append(ptext(5, top + 57, ch, fontSize=13, fontWeight="bold", font=FONT, color="#000000",
                             align="left", baseline="middle"))
    left_layers.append(ptext(154, top + 98, RANGE_LO, fontSize=12, font=FONT, color=TXT, align="right",
                             baseline="middle"))
pt = 8 * STRIP_PX
left_layers.append(prect(1, 158, pt + 1.5, pt + 25, fill="#ECE9D8", stroke="#c6c2b1", strokeWidth=1))
left_layers.append(ptext(5, pt + 13, PUMP_LABEL, fontSize=13, fontWeight="bold", font=FONT, color="#800080",
                         align="left", baseline="middle"))
lt = pt + 27.5
left_layers.append(prect(1, 158, lt, LEFT_H - 1, fill="#ECE9D8", stroke="#c6c2b1", strokeWidth=1))
left_layers.append(prect(7, 25, lt + 14, lt + 31, fill="#1b6d6b"))
left_layers.append(prule(9, lt + 26, 14, lt + 26, color="#ffffff", strokeWidth=2))
left_layers.append(prule(14, lt + 26, 14, lt + 18, color="#ffffff", strokeWidth=2))
left_layers.append(prule(14, lt + 18, 20, lt + 18, color="#ffffff", strokeWidth=2))
left_layers.append(prule(20, lt + 18, 20, lt + 29, color="#ffffff", strokeWidth=2))
left_layers.append(ptext(27, lt + 23, LOGO_LABEL, fontSize=23, font="Liberation Serif", color="#1f9e9b",
                         align="left", baseline="middle"))
left = alt.layer(*left_layers).properties(width=LEFT_W, height=LEFT_H)

chart = alt.hconcat(left, main, spacing=0).properties(padding=0, bounds="flush", background="#ffffff")
chart = chart.configure_view(strokeWidth=0)
chart.save("out.html", embed_options={"renderer": "svg", "actions": False})
